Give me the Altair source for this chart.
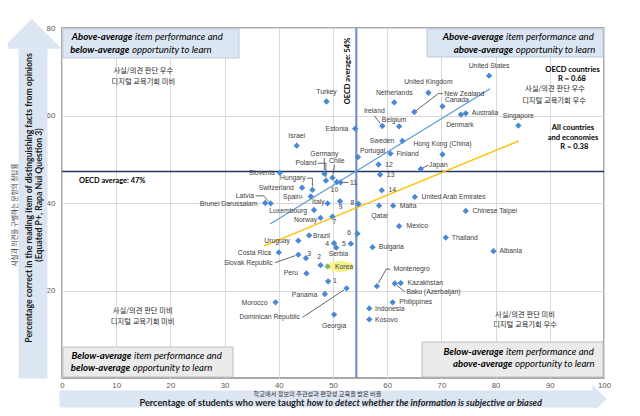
import altair as alt
import pandas as pd

# ---------------- data ----------------
names = ["Turkey", "Netherlands", "United Kingdom", "New Zealand", "Canada", "United States",
         "Australia", "Denmark", "Singapore", "Estonia", "Ireland", "Belgium", "Israel", "Sweden",
         "Portugal", "Finland", "Hong Kong (China)", "12", "13", "Japan", "14",
         "United Arab Emirates", "8", "Qatar", "Malta", "Chinese Taipei", "Mexico", "Thailand",
         "Albania", "Bulgaria", "6", "5", "4", "Serbia", "Brazil", "Uruguay", "Costa Rica",
         "Slovak Republic", "3", "2", "Korea", "Peru", "1", "Dominican Republic", "Panama",
         "Morocco", "Georgia", "Indonesia", "Kosovo", "Montenegro", "Kazakhstan",
         "Baku (Azerbaijan)", "Philippines", "Slovenia", "Poland", "Germany", "Chile", "10", "11",
         "Hungary", "Switzerland", "Spain¹", "Latvia", "Brunei Darussalam", "Italy", "9",
         "Luxembourg", "Norway", "7"]
taught = [48.8, 61.3, 67.6, 65.0, 70.2, 78.8,
          74.5, 73.6, 84.2, 54.1, 59.1, 62.2, 43.3, 62.8,
          54.6, 60.6, 70.2, 58.4, 58.7, 66.2, 59.0,
          65.1, 54.7, 58.5, 61.1, 74.5, 62.2, 70.8,
          79.6, 57.3, 54.5, 53.3, 50.2, 50.6, 45.6, 43.6, 40.0,
          43.6, 45.0, 47.7, 49.0, 45.1, 49.1, 52.5, 48.5,
          39.4, 50.2, 56.7, 56.7, 58.1, 62.5,
          61.4, 61.0, 40.2, 48.7, 48.4, 49.9, 50.7, 51.4,
          46.2, 44.3, 45.9, 38.5, 37.5, 49.0, 51.3,
          46.5, 47.7, 49.9]
correct = [63.2, 63.0, 65.2, 60.8, 62.1, 69.1,
           60.5, 60.2, 57.7, 57.0, 57.6, 57.5, 53.1, 54.2,
           50.5, 51.3, 51.1, 48.8, 46.5, 47.8, 42.9,
           41.4, 39.8, 39.4, 39.4, 38.2, 34.7, 32.1,
           29.0, 29.9, 33.0, 30.7, 30.8, 29.8, 32.6, 31.4, 28.7,
           28.2, 27.4, 25.8, 25.5, 23.9, 22.1, 20.5, 19.2,
           17.3, 14.5, 15.9, 13.4, 21.0, 21.7,
           21.6, 17.3, 46.9, 45.1, 46.7, 45.8, 44.8, 44.7,
           43.0, 43.5, 41.5, 39.9, 40.0, 39.9, 40.4,
           38.4, 36.6, 36.9]

oecd_avg_taught = 54.3
oecd_avg_correct = 47.2
fit_oecd_x = [38.4, 79.0]
fit_oecd_y = [35.2, 66.1]
fit_all_x = [37.3, 84.3]
fit_all_y = [30.2, 54.2]
x_ticks = list(range(0, 101, 10))
y_ticks = [20, 40, 60, 80]
highlight = "Korea"

# ---------------- label placement (pixels from the point) ----------------
label_pos = {
    "Turkey": ("center", 0, -10), "Netherlands": ("center", 0, -9.5),
    "United Kingdom": ("center", 0, -10.5), "New Zealand": ("left", 30, -18.4),
    "Canada": ("left", 2.5, -6), "United States": ("center", 0, -10),
    "Australia": ("left", 6, 0), "Denmark": ("center", -1, 10.7),
    "Singapore": ("center", 0, -9.7), "Estonia": ("right", -7, 0.7),
    "Ireland": ("center", -8, -14.6), "Belgium": ("center", -5, -6.7),
    "Israel": ("center", 0, -10), "Sweden": ("right", -8, 0.6),
    "Portugal": ("left", 2, -6.3), "Finland": ("left", 6, 0),
    "Hong Kong (China)": ("center", 0, -10), "12": ("left", 6.7, 0),
    "13": ("left", 6.7, 0), "Japan": ("left", 8.3, -3.7), "14": ("left", 6.6, 0),
    "United Arab Emirates": ("left", 6.7, 0.6), "8": ("right", -4.3, -1),
    "Qatar": ("center", 0.7, 10.6), "Malta": ("left", 6.7, 0),
    "Chinese Taipei": ("left", 6.7, 0), "Mexico": ("left", 7.4, 0),
    "Thailand": ("left", 6, 0), "Albania": ("left", 6, 0), "Bulgaria": ("left", 6.3, 0),
    "6": ("right", -6.3, -0.7), "5": ("right", -5, 0.7), "4": ("right", -5, 0.3),
    "Serbia": ("center", 2.3, 6.8), "Brazil": ("left", 3.8, 0.6),
    "Uruguay": ("right", -8.3, 0.4), "Costa Rica": ("right", -7.7, 0.6),
    "Slovak Republic": ("right", -25.6, 8), "3": ("left", 1.3, -4.3),
    "2": ("center", -1.4, -7.7), "Korea": ("left", 7.3, 0.6), "Peru": ("right", -8.4, 0),
    "1": ("left", 5, 0), "Dominican Republic": ("right", -46.7, 29),
    "Panama": ("right", -7.7, 1), "Morocco": ("right", -8, 0.3),
    "Georgia": ("center", 0, 11.7), "Indonesia": ("left", 5.7, 0.3),
    "Kosovo": ("left", 5.7, 0.3), "Montenegro": ("left", 16.6, -17),
    "Kazakhstan": ("left", 6.7, 0.4), "Baku (Azerbaijan)": ("left", 11.7, 8.3),
    "Philippines": ("left", 6.6, 0), "Slovenia": ("right", -5, 0.6),
    "Poland": ("right", -9.3, -17.4), "Germany": ("center", 0, -20),
    "Chile": ("center", 4.4, -16.6), "10": ("center", -2.4, 8), "11": ("left", 9.3, 1),
    "Hungary": ("right", -6.7, -11.7), "Switzerland": ("right", -8.3, 0),
    "Spain¹": ("right", -8, 0.7), "Latvia": ("right", -16.7, -7.6),
    "Brunei Darussalam": ("right", -7.7, 1), "Italy": ("right", -3, -1.5),
    "9": ("center", 0.7, 5.7), "Luxembourg": ("right", -7, 0.7),
    "Norway": ("right", -3.4, 2), "7": ("center", 2, 5.6),
}
connectors = {
    "New Zealand": [(0, 0), (24, -18.4), (28.4, -18.4)],
    "Ireland": [(-8, -10.3), (-2, -2.5)],
    "Japan": [(2, -1), (7.5, -3.7)],
    "11": [(2.5, 0), (8, 0)],
    "Slovak Republic": [(-23.3, 8), (-3, 1)],
    "Dominican Republic": [(-44, 29), (-2.5, 1.6)],
    "Montenegro": [(1.5, -3), (9.3, -17), (13.5, -17)],
    "Baku (Azerbaijan)": [(2, 1.7), (10, 8.3)],
    "Hungary": [(-5.2, -11.7), (0, -11.7), (0, -3.5)],
    "Latvia": [(-15, -7.6), (-7, -7.6), (-2, -2)],
    "Poland": [(-8, -17.4), (0, -17.4), (0, -3.2)],
    "Germany": [(0, -15.8), (0, -3.3)],
    "Chile": [(2.2, -12.8), (0.5, -3.3)],
}

# ---------------- geometry ----------------
W, H = 542, 350
XMAX, YMAX = 100, 80
KX, KY = W / XMAX, H / YMAX

BLUE = "#4A87D4"
GREEN = "#86B26E"
ARROW = "#DCE6F2"
LAB = "Liberation Sans"
CAL = "Lato"
KR = "Noto Sans CJK KR"

XS = alt.Scale(domain=[0, XMAX], nice=False, zero=False)
YS = alt.Scale(domain=[0, YMAX], nice=False, zero=False)
XA = alt.Axis(values=x_ticks, grid=True, gridColor="#D9D9D9", domain=False, ticks=False,
              labelFontSize=7.8, labelPadding=3, labelColor="#595959", labelFont=LAB,
              labelFlush=False, title="")
YA = alt.Axis(values=y_ticks, grid=True, gridColor="#D9D9D9", domain=False, ticks=False,
              labelFontSize=8, labelPadding=7, labelColor="#595959", labelFont=LAB,
              labelFlush=False, title="")


def X(f):
    return alt.X(f, type="quantitative", scale=XS, axis=XA)


def Y(f):
    return alt.Y(f, type="quantitative", scale=YS, axis=YA)


df = pd.DataFrame({"country": names, "x": taught, "y": correct})
df["hl"] = df["country"] == highlight

lab_rows = []
for n, xv, yv in zip(names, taught, correct):
    a, dx, dy = label_pos[n]
    lab_rows.append({"text": n, "x": xv + dx / KX, "y": yv - dy / KY, "align": a})
labs = pd.DataFrame(lab_rows)

seg_rows = []
for n, pts in connectors.items():
    i = names.index(n)
    px, py = taught[i], correct[i]
    for (a, b), (c, d) in zip(pts[:-1], pts[1:]):
        seg_rows.append({"x": px + a / KX, "y": py - b / KY, "x2": px + c / KX, "y2": py - d / KY})
segs = pd.DataFrame(seg_rows)

one = pd.DataFrame({"k": [0]})


def txt(Xp, Yp, s, size, font=CAL, weight="normal", style="normal", align="left",
        angle=0, color="#000000"):
    return alt.Chart(one).mark_text(text=s, fontSize=size, font=font, fontWeight=weight,
                                    fontStyle=style, align=align, angle=angle, color=color,
                                    baseline="middle").encode(x=alt.value(Xp), y=alt.value(Yp))


def box(x1, x2, y1, y2, fill, stroke):
    return alt.Chart(one).mark_rect(fill=fill, stroke=stroke, strokeWidth=1).encode(
        x=alt.value(x1), x2=alt.value(x2), y=alt.value(y1), y2=alt.value(y2))


layers = []

# arrows (outside the plot)
layers.append(box(-43, -15, 21, 350, ARROW, ARROW))
layers.append(alt.Chart(one).mark_point(shape="M-1,0.5L0,-0.5L1,0.5Z", size=3600, filled=True,
                                        fill=ARROW, strokeWidth=0, opacity=1).encode(
    x=alt.value(-30.3), y=alt.value(5.7)))
layers.append(box(-2, 532, 363, 379, ARROW, ARROW))
layers.append(alt.Chart(one).mark_point(shape="M-0.5,-1L0.5,0L-0.5,1Z", size=784, filled=True,
                                        fill=ARROW, strokeWidth=0, opacity=1).encode(
    x=alt.value(537.5), y=alt.value(371)))

# quadrant boxes
layers.append(box(1, 177, 1, 30, "#DCE6F2", "#BCCBE0"))
layers.append(box(365, 541, 1, 29, "#DCE6F2", "#BCCBE0"))
layers.append(box(1, 171, 319, 349, "#EBEBEB", "#BFBFBF"))
layers.append(box(360, 541, 314, 349, "#EBEBEB", "#BFBFBF"))

# average lines
layers.append(alt.Chart(pd.DataFrame({"y": [oecd_avg_correct]})).mark_rule(
    color="#1F3864", strokeWidth=1.3).encode(y=Y("y")))
layers.append(alt.Chart(pd.DataFrame({"x": [oecd_avg_taught]})).mark_rule(
    color="#7592C4", strokeWidth=2.2).encode(x=X("x")))

# fit lines
layers.append(alt.Chart(pd.DataFrame({"x": fit_oecd_x, "y": fit_oecd_y})).mark_line(
    color="#5B9BD5", strokeWidth=1.2).encode(x=X("x"), y=Y("y")))
layers.append(alt.Chart(pd.DataFrame({"x": fit_all_x, "y": fit_all_y})).mark_line(
    color="#FFC000", strokeWidth=1.5).encode(x=X("x"), y=Y("y")))

# Korea highlight ellipse
ki = names.index(highlight)
layers.append(alt.Chart(pd.DataFrame({"x": [taught[ki] + 12.9 / KX], "y": [correct[ki]]})).mark_point(
    shape="M-1,0A1,0.4,0,1,0,1,0A1,0.4,0,1,0,-1,0Z", size=729, filled=True, fill="#F7F38F",
    strokeWidth=0, opacity=1).encode(x=X("x"), y=Y("y")))

# connectors
layers.append(alt.Chart(segs).mark_rule(color="#404040", strokeWidth=0.8).encode(
    x=X("x"), y=Y("y"), x2=alt.X2("x2"), y2=alt.Y2("y2")))

# points
layers.append(alt.Chart(df).mark_point(shape="diamond", filled=True, size=40, opacity=1).encode(
    x=X("x"), y=Y("y"),
    color=alt.condition(alt.datum.hl, alt.value(GREEN), alt.value(BLUE))))

# country labels
for a in ["left", "center", "right"]:
    sub = labs[labs["align"] == a]
    layers.append(alt.Chart(sub).mark_text(align=a, baseline="middle", fontSize=6.8, font=LAB,
                                           color="#404040").encode(
        x=X("x"), y=Y("y"), text="text:N"))

# quadrant texts (bold part right-aligned to the join, rest left-aligned)
FS = 9.6
for (jx, y, b, rest) in [(70.5, 9, "Above-average", "item performance and"),
                         (67.5, 22, "below-average", "opportunity to learn"),
                         (441.5, 9, "Above-average", "item performance and"),
                         (451.2, 22, "above-average", "opportunity to learn"),
                         (69.5, 327.7, "Below-average", "item performance and"),
                         (68.2, 340, "below-average", "opportunity to learn"),
                         (441.5, 323.7, "Below-average", "item performance and"),
                         (450.5, 336.3, "above-average", "opportunity to learn")]:
    layers.append(txt(jx, y, b, FS, weight="bold", style="italic", align="right"))
    layers.append(txt(jx + 2.5, y, rest, FS, style="italic", align="left"))

# Korean quadrant notes
for (xx, yy, s) in [(81.3, 42.7, "사실/의견 판단 우수"), (81.3, 53.7, "디지털 교육기회 미비"),
                    (493, 61.3, "사실/의견 판단 우수"), (492, 73, "디지털 교육기회 우수"),
                    (80.7, 282.7, "사실/의견 판단 미비"), (80.7, 293.7, "디지털 교육기회 미비"),
                    (463, 287, "사실/의견 판단 미비"), (463, 297, "디지털 교육기회 우수")]:
    layers.append(txt(xx, yy, s, 7.3, font=KR, align="center", color="#262626"))

# correlation notes
for (xx, yy, s) in [(510.5, 42, "OECD countries"), (510, 51.3, "R = 0.68"),
                    (511, 99.7, "All countries"), (511, 109.7, "and economies"),
                    (512.3, 119.3, "R = 0.38")]:
    layers.append(txt(xx, yy, s, 7.6, weight="bold", align="center"))

# average labels
layers.append(txt(17, 153, "OECD average: 47%", 7.4, weight="bold"))
layers.append(txt(286.3, 43, "OECD average: 54%", 7.4, weight="bold", align="center", angle=270))

# axis titles
layers.append(txt(-32.7, 170, "Percentage correct in the reading item of distinguishing facts from opinions",
                  8.7, weight="bold", align="center", angle=270, color="#1a1a1a"))
layers.append(txt(-22.7, 167, "(Equated P+, Rapa Nui Question 3)", 8.7, weight="bold",
                  align="center", angle=270, color="#1a1a1a"))
layers.append(txt(-47.5, 187, "사실과 의견을 구별하는 문항의 정답률", 6.6, font=KR, align="center",
                  angle=270, color="#333333"))
layers.append(txt(242.5, 375, "Percentage of students who were taught", 9.2, weight="bold",
                  align="right", color="#1a1a1a"))
layers.append(txt(244.7, 375, "how to detect whether the information is subjective or biased", 9.2,
                  weight="bold", style="italic", align="left", color="#1a1a1a"))
layers.append(txt(255.5, 366.3, "학교에서 정보의 주관성과 편향성 교육을 받은 비율", 6.2, font=KR,
                  align="center", color="#333333"))

chart = alt.layer(*layers).properties(
    width=W, height=H,
    padding={"left": 54, "top": 20, "right": 26, "bottom": 30},
    autosize=alt.AutoSizeParams(type="none"),
    background="white",
).configure_view(stroke="#8C8C8C", strokeWidth=1.5)

chart.save("out.html", embed_options={"renderer": "svg", "actions": False})
